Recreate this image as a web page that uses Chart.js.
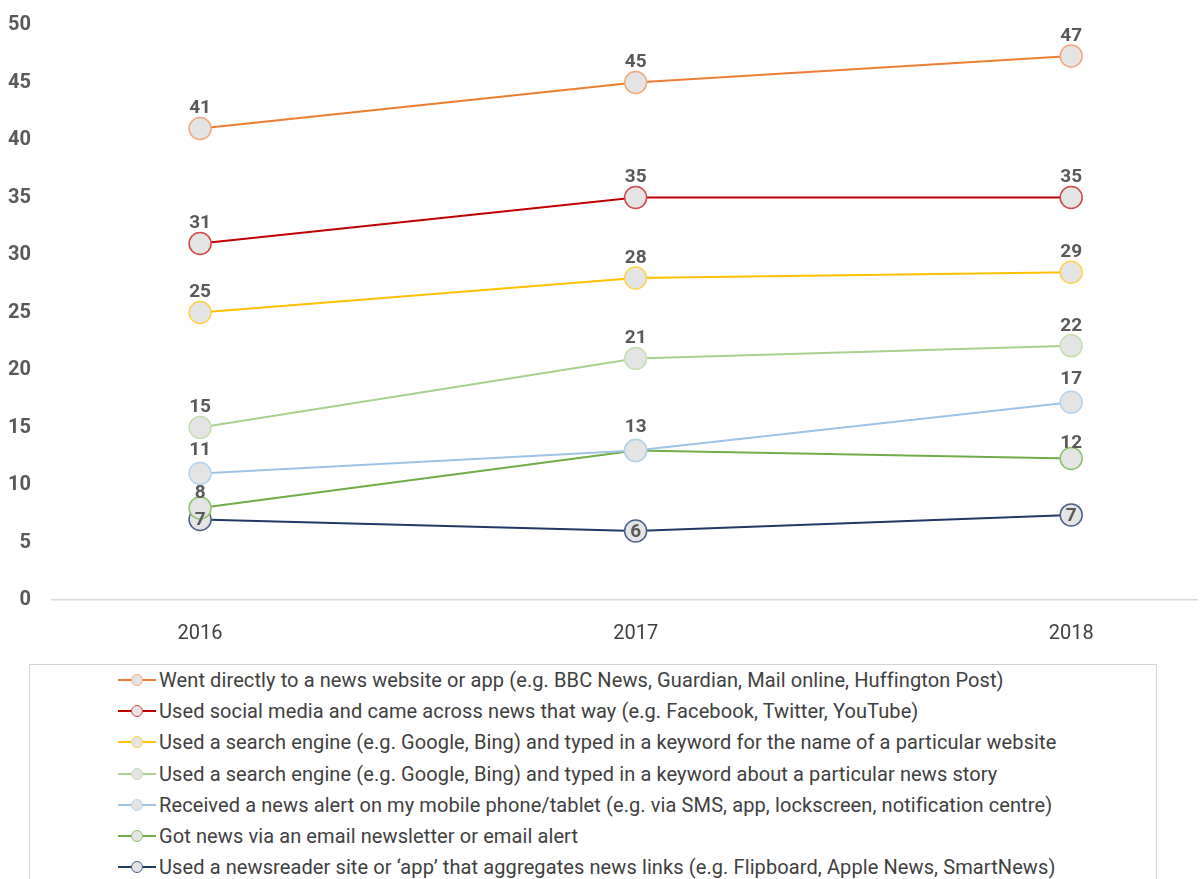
<!DOCTYPE html>
<html lang="en">
<head>
    <meta charset="UTF-8">
    <title>News access routes 2016-2018</title>
    <style>
        body {
            margin: 0;
            background-color: #ffffff;
            font-family: Roboto, sans-serif;
            width: 1203px;
            height: 879px;
            overflow: hidden;
            position: relative;
        }
        .chart-container {
            position: absolute;
            left: 0;
            top: -8px;
            width: 1210px;
            height: 668px;
        }
        .legend-box {
            position: absolute;
            left: 29px;
            top: 664px;
            width: 1128px;
            height: 230px;
            border: 1px solid #d4d4d4;
            box-sizing: border-box;
        }
        .legend-row {
            position: absolute;
            left: 88px;
            height: 24px;
            display: flex;
            align-items: center;
            font-size: 20px;
            letter-spacing: 0.1px;
            color: #404040;
            white-space: nowrap;
        }
        .legend-mark {
            position: relative;
            width: 38px;
            height: 24px;
            margin-right: 3px;
        }
        .legend-mark .ln {
            position: absolute;
            left: 0;
            right: 0;
            top: 11px;
            height: 2px;
        }
        .legend-mark .dot {
            position: absolute;
            left: 13px;
            top: 6px;
            width: 12px;
            height: 12px;
            box-sizing: border-box;
            border-radius: 50%;
            border: 1.5px solid;
            background: #e4e4e4;
        }
    </style>
</head>
<body>
    <div class="chart-container">
        <canvas id="mainChart"></canvas>
    </div>
    <div class="legend-box" id="legend"></div>

    <script src="https://cdn.jsdelivr.net/npm/chart.js"></script>
    <script>
        const years = ['2016', '2017', '2018'];
        const yTicks = [0, 5, 10, 15, 20, 25, 30, 35, 40, 45, 50];

        const seriesNames = [
            'Went directly to a news website or app (e.g. BBC News, Guardian, Mail online, Huffington Post)',
            'Used social media and came across news that way  (e.g. Facebook, Twitter, YouTube)',
            'Used a search engine (e.g. Google, Bing) and typed in a keyword for the name of a particular website',
            'Used a search engine  (e.g. Google, Bing) and typed in a keyword about a particular news story',
            'Received a news alert on my mobile phone/tablet (e.g. via SMS, app, lockscreen, notification centre)',
            'Got news via an email newsletter or email alert',
            'Used a newsreader site or \u2018app\u2019 that aggregates news links  (e.g. Flipboard, Apple News, SmartNews)'
        ];

        const directSite = [41, 45, 47.3];
        const socialMedia = [31, 35, 35];
        const searchWebsite = [25, 28, 28.5];
        const searchStory = [15, 21, 22.1];
        const mobileAlert = [11, 13, 17.2];
        const emailNews = [8, 13, 12.3];
        const aggregator = [7, 6, 7.4];

        const seriesValues = [directSite, socialMedia, searchWebsite, searchStory, mobileAlert, emailNews, aggregator];
        const seriesColors = ['#ED7D31', '#C00000', '#FFC000', '#A9D18E', '#9DC3E6', '#70AD47', '#203864'];
        const markerBorders = ['#F4A77A', '#D0474A', '#FFD24D', '#C3E0AE', '#B6D3EE', '#8CC26A', '#4A5F8A'];
        const labelOffsets = [21, 21, 21, 21, 24, 16, 0];

        const datasets = seriesValues.map((vals, i) => ({
            label: seriesNames[i],
            data: vals.map((v, j) => ({ x: j, y: v })),
            borderColor: seriesColors[i],
            backgroundColor: seriesColors[i],
            borderWidth: 2,
            pointRadius: 11,
            pointHoverRadius: 11,
            pointBackgroundColor: '#e4e4e4',
            pointBorderColor: markerBorders[i],
            pointBorderWidth: 1.5,
            labelOffset: labelOffsets[i],
            fill: false,
            tension: 0
        }));

        // value labels above the points (navy ones sit inside the marker)
        const valueLabels = {
            id: 'valueLabels',
            afterDatasetsDraw(chart) {
                const ctx = chart.ctx;
                ctx.save();
                ctx.font = 'bold 19px Roboto';
                ctx.fillStyle = '#595959';
                ctx.textAlign = 'center';
                ctx.textBaseline = 'middle';
                const seen = {};
                chart.data.datasets.forEach((ds, di) => {
                    const meta = chart.getDatasetMeta(di);
                    meta.data.forEach((pt, j) => {
                        const txt = String(Math.round(ds.data[j].y));
                        const key = j + '_' + txt;
                        if (seen[key]) return;
                        seen[key] = true;
                        ctx.fillText(txt, pt.x, pt.y - ds.labelOffset + 1);
                    });
                });
                ctx.restore();
            }
        };

        const ctx = document.getElementById('mainChart').getContext('2d');
        const chart = new Chart(ctx, {
            type: 'line',
            data: { datasets: datasets },
            options: {
                responsive: true,
                maintainAspectRatio: false,
                animation: false,
                layout: {
                    padding: { top: 14, right: 0, bottom: 0, left: 0 }
                },
                scales: {
                    x: {
                        type: 'linear',
                        min: -0.34,
                        max: 2.29,
                        afterBuildTicks: (scale) => {
                            scale.ticks = years.map((y, i) => ({ value: i }));
                        },
                        afterFit: (scale) => { scale.height = 60; },
                        grid: { display: false, drawTicks: false },
                        border: { color: '#d9d9d9', width: 1.5 },
                        ticks: {
                            padding: 22,
                            color: '#404040',
                            font: { family: 'Roboto', size: 20 },
                            callback: (v) => years[v]
                        }
                    },
                    y: {
                        min: 0,
                        max: 50,
                        afterBuildTicks: (scale) => {
                            scale.ticks = yTicks.map(v => ({ value: v }));
                        },
                        afterFit: (scale) => { scale.width = 52; },
                        grid: { display: false, drawTicks: false },
                        border: { display: false },
                        ticks: {
                            padding: 21,
                            color: '#595959',
                            font: { family: 'Roboto', size: 20, weight: 'bold' }
                        }
                    }
                },
                plugins: {
                    legend: { display: false },
                    tooltip: { enabled: false }
                }
            },
            plugins: [valueLabels]
        });

        // legend built from the same series arrays
        const legend = document.getElementById('legend');
        seriesNames.forEach((name, i) => {
            const row = document.createElement('div');
            row.className = 'legend-row';
            row.style.top = (3 + i * 31.2) + 'px';
            row.innerHTML = '<div class="legend-mark"><div class="ln" style="background:' + seriesColors[i] +
                '"></div><div class="dot" style="border-color:' + markerBorders[i] + '"></div></div>' +
                '<span>' + name + '</span>';
            legend.appendChild(row);
        });
    </script>
</body>
</html>
